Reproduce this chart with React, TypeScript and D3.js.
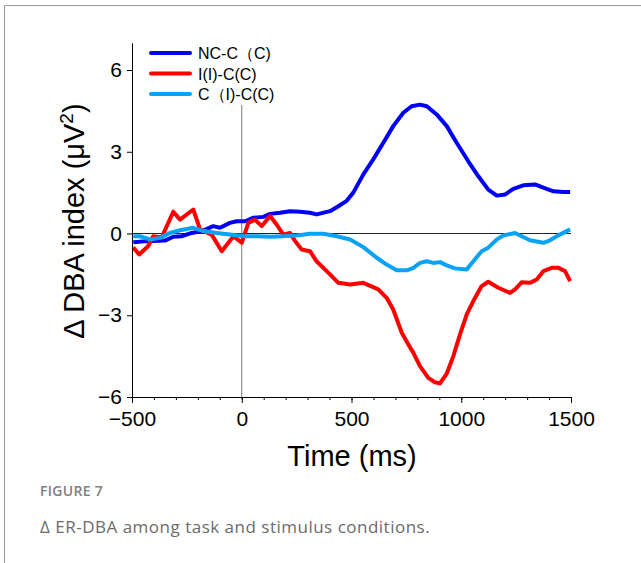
import React, { useEffect, useRef } from "react";
import * as d3 from "d3";

// series: [time (ms), value]
const ncC: [number, number][] = [
  [-494, -0.32], [-433, -0.28], [-350, -0.26], [-312, -0.12], [-274, -0.1],
  [-228, 0.02], [-182, 0.09], [-130, 0.27], [-99, 0.21], [-54, 0.39],
  [-23, 0.45], [15, 0.45], [53, 0.58], [98, 0.61], [129, 0.72],
  [174, 0.76], [220, 0.82], [265, 0.8], [311, 0.76], [341, 0.7],
  [402, 0.82], [440, 1.0], [478, 1.2], [508, 1.5], [554, 2.17],
  [599, 2.72], [645, 3.33], [690, 3.94], [736, 4.43], [774, 4.67],
  [812, 4.73], [843, 4.67], [888, 4.37], [934, 3.94], [979, 3.33],
  [1032, 2.65], [1078, 2.1], [1123, 1.61], [1162, 1.39], [1199, 1.43],
  [1237, 1.64], [1283, 1.77], [1336, 1.8], [1374, 1.68], [1420, 1.55],
  [1465, 1.52], [1496, 1.52],
];

const iiC: [number, number][] = [
  [-495, -0.51], [-467, -0.77], [-427, -0.47], [-403, -0.1], [-365, -0.15],
  [-312, 0.8], [-281, 0.51], [-221, 0.88], [-190, 0.15], [-137, -0.04],
  [-91, -0.65], [-38, -0.1], [0, -0.34], [30, 0.39], [60, 0.51],
  [91, 0.27], [129, 0.64], [159, 0.33], [189, -0.04], [220, 0.02],
  [243, -0.28], [273, -0.59], [311, -0.65], [341, -1.02], [402, -1.5],
  [440, -1.81], [494, -1.87], [554, -1.81], [622, -2.05], [660, -2.36],
  [690, -2.79], [729, -3.64], [759, -4.07], [782, -4.38], [812, -4.87],
  [850, -5.3], [880, -5.46], [903, -5.5], [934, -5.14], [964, -4.5],
  [994, -3.71], [1025, -2.97], [1055, -2.48], [1093, -1.93], [1123, -1.77],
  [1169, -1.99], [1222, -2.18], [1245, -2.05], [1275, -1.79], [1313, -1.81],
  [1344, -1.69], [1374, -1.38], [1412, -1.26], [1443, -1.26], [1473, -1.38],
  [1496, -1.75],
];

const ciC: [number, number][] = [
  [-494, -0.1], [-464, -0.1], [-418, -0.22], [-372, -0.16], [-327, 0.02],
  [-281, 0.12], [-221, 0.21], [-175, 0.09], [-114, 0.02], [-54, -0.04],
  [7, -0.1], [68, -0.1], [129, -0.12], [189, -0.1], [250, -0.07],
  [311, -0.01], [372, -0.01], [433, -0.1], [494, -0.22], [554, -0.5],
  [615, -0.89], [660, -1.14], [706, -1.35], [752, -1.35], [782, -1.26],
  [812, -1.08], [843, -1.02], [873, -1.08], [903, -1.05], [934, -1.17],
  [971, -1.28], [1025, -1.32], [1055, -1.02], [1093, -0.65], [1123, -0.52],
  [1162, -0.22], [1192, -0.07], [1245, 0.02], [1275, -0.1], [1313, -0.25],
  [1374, -0.34], [1404, -0.25], [1449, -0.04], [1496, 0.15],
];

const seriesNames = ["NC-C\uFF08C)", "I(I)-C(C)", "C\uFF08I)-C(C)"];
const seriesColors = ["#0000f5", "#ff0000", "#0aa2f5"];
const seriesData = [ncC, iiC, ciC];

const xTicks = [-500, 0, 500, 1000, 1500];
const xMinorTicks = d3.range(-500, 1501, 100);
const yTicks = [-6, -3, 0, 3, 6];

const W = 641;
const H = 563;
const font = "'Liberation Sans', Arial, sans-serif";

export default function App() {
  const gx = useRef<SVGGElement>(null);
  const gy = useRef<SVGGElement>(null);

  const x = d3.scaleLinear().domain([-500, 1500]).range([132, 571]);
  const y = d3.scaleLinear().domain([-6, 7]).range([397, 42.75]);

  const line = d3
    .line<[number, number]>()
    .x((d) => x(d[0]))
    .y((d) => y(d[1]));

  useEffect(() => {
    const ax = d3.select(gx.current!);
    ax.selectAll("*").remove();
    // minor ticks first
    ax.append("g")
      .call(
        d3.axisBottom(x).tickValues(xMinorTicks).tickSize(3).tickSizeOuter(0).tickFormat(() => "")
      )
      .call((g) => g.select(".domain").remove());
    ax.append("g")
      .call(
        d3.axisBottom(x).tickValues(xTicks).tickSize(6).tickSizeOuter(0).tickPadding(8)
          .tickFormat((d) => String(d).replace("-", "\u2212"))
      );
    ax.selectAll("text").attr("font-size", 21).attr("font-family", font).attr("fill", "#000");
    ax.selectAll("line,path").attr("stroke", "#000").attr("stroke-width", 1);

    const ay = d3.select(gy.current!);
    ay.selectAll("*").remove();
    ay.call(
      d3.axisLeft(y).tickValues(yTicks).tickSize(5).tickSizeOuter(0).tickPadding(5)
        .tickFormat((d) => String(d).replace("-", "\u2212"))
    );
    ay.selectAll("text").attr("font-size", 21).attr("font-family", font).attr("fill", "#000");
    ay.selectAll("line,path").attr("stroke", "#000").attr("stroke-width", 1);
  }, []);

  return (
    <svg
      width={W}
      height={H}
      style={{ position: "absolute", left: 0, top: 0, background: "#fff" }}
    >
      {/* frame */}
      <path d={`M4.5,${H} V5.5 H${W}`} fill="none" stroke="#9a9a9a" strokeWidth={1} />

      {/* reference lines */}
      <line x1={x(-500)} x2={x(1500)} y1={y(0)} y2={y(0)} stroke="#222" strokeWidth={1} />
      <line x1={x(0)} x2={x(0)} y1={105} y2={y(-6)} stroke="#777" strokeWidth={1} />

      {seriesData.map((s, i) => (
        <path
          key={i}
          d={line(s) ?? ""}
          fill="none"
          stroke={seriesColors[i]}
          strokeWidth={4}
          strokeLinejoin="round"
          strokeLinecap="butt"
        />
      ))}

      <g ref={gx} transform={`translate(0,${y(-6)})`} />
      <g ref={gy} transform={`translate(${x(-500)},0)`} />

      {/* legend */}
      {seriesNames.map((n, i) => (
        <g key={n} transform={`translate(0,${53 + i * 20.5})`}>
          <line x1={151} x2={190} y1={0} y2={0} stroke={seriesColors[i]} strokeWidth={4} strokeLinecap="round" />
          <text x={198} y={6} fontSize={16} fontFamily={font} fill="#000">
            {n}
          </text>
        </g>
      ))}

      {/* axis titles */}
      <text x={352} y={466} textAnchor="middle" fontSize={29} fontFamily={font} fill="#000">
        Time (ms)
      </text>
      <text
        transform={`translate(84,221) rotate(-90)`}
        textAnchor="middle"
        fontSize={29}
        fontFamily={font}
        fill="#000"
      >
        Δ DBA index (μV<tspan dy={-11} fontSize={19}>2</tspan>
        <tspan dy={11}>)</tspan>
      </text>

      {/* caption */}
      <text x={40} y={496} fontSize={14} letterSpacing={0.3} fontFamily="'Open Sans', sans-serif" fontWeight={600} fill="#808080">
        FIGURE 7
      </text>
      <text x={40} y={533} fontSize={17} letterSpacing={0.5} fontFamily="'Open Sans', sans-serif" fill="#6b6b6b">
        Δ ER-DBA among task and stimulus conditions.
      </text>
    </svg>
  );
}
